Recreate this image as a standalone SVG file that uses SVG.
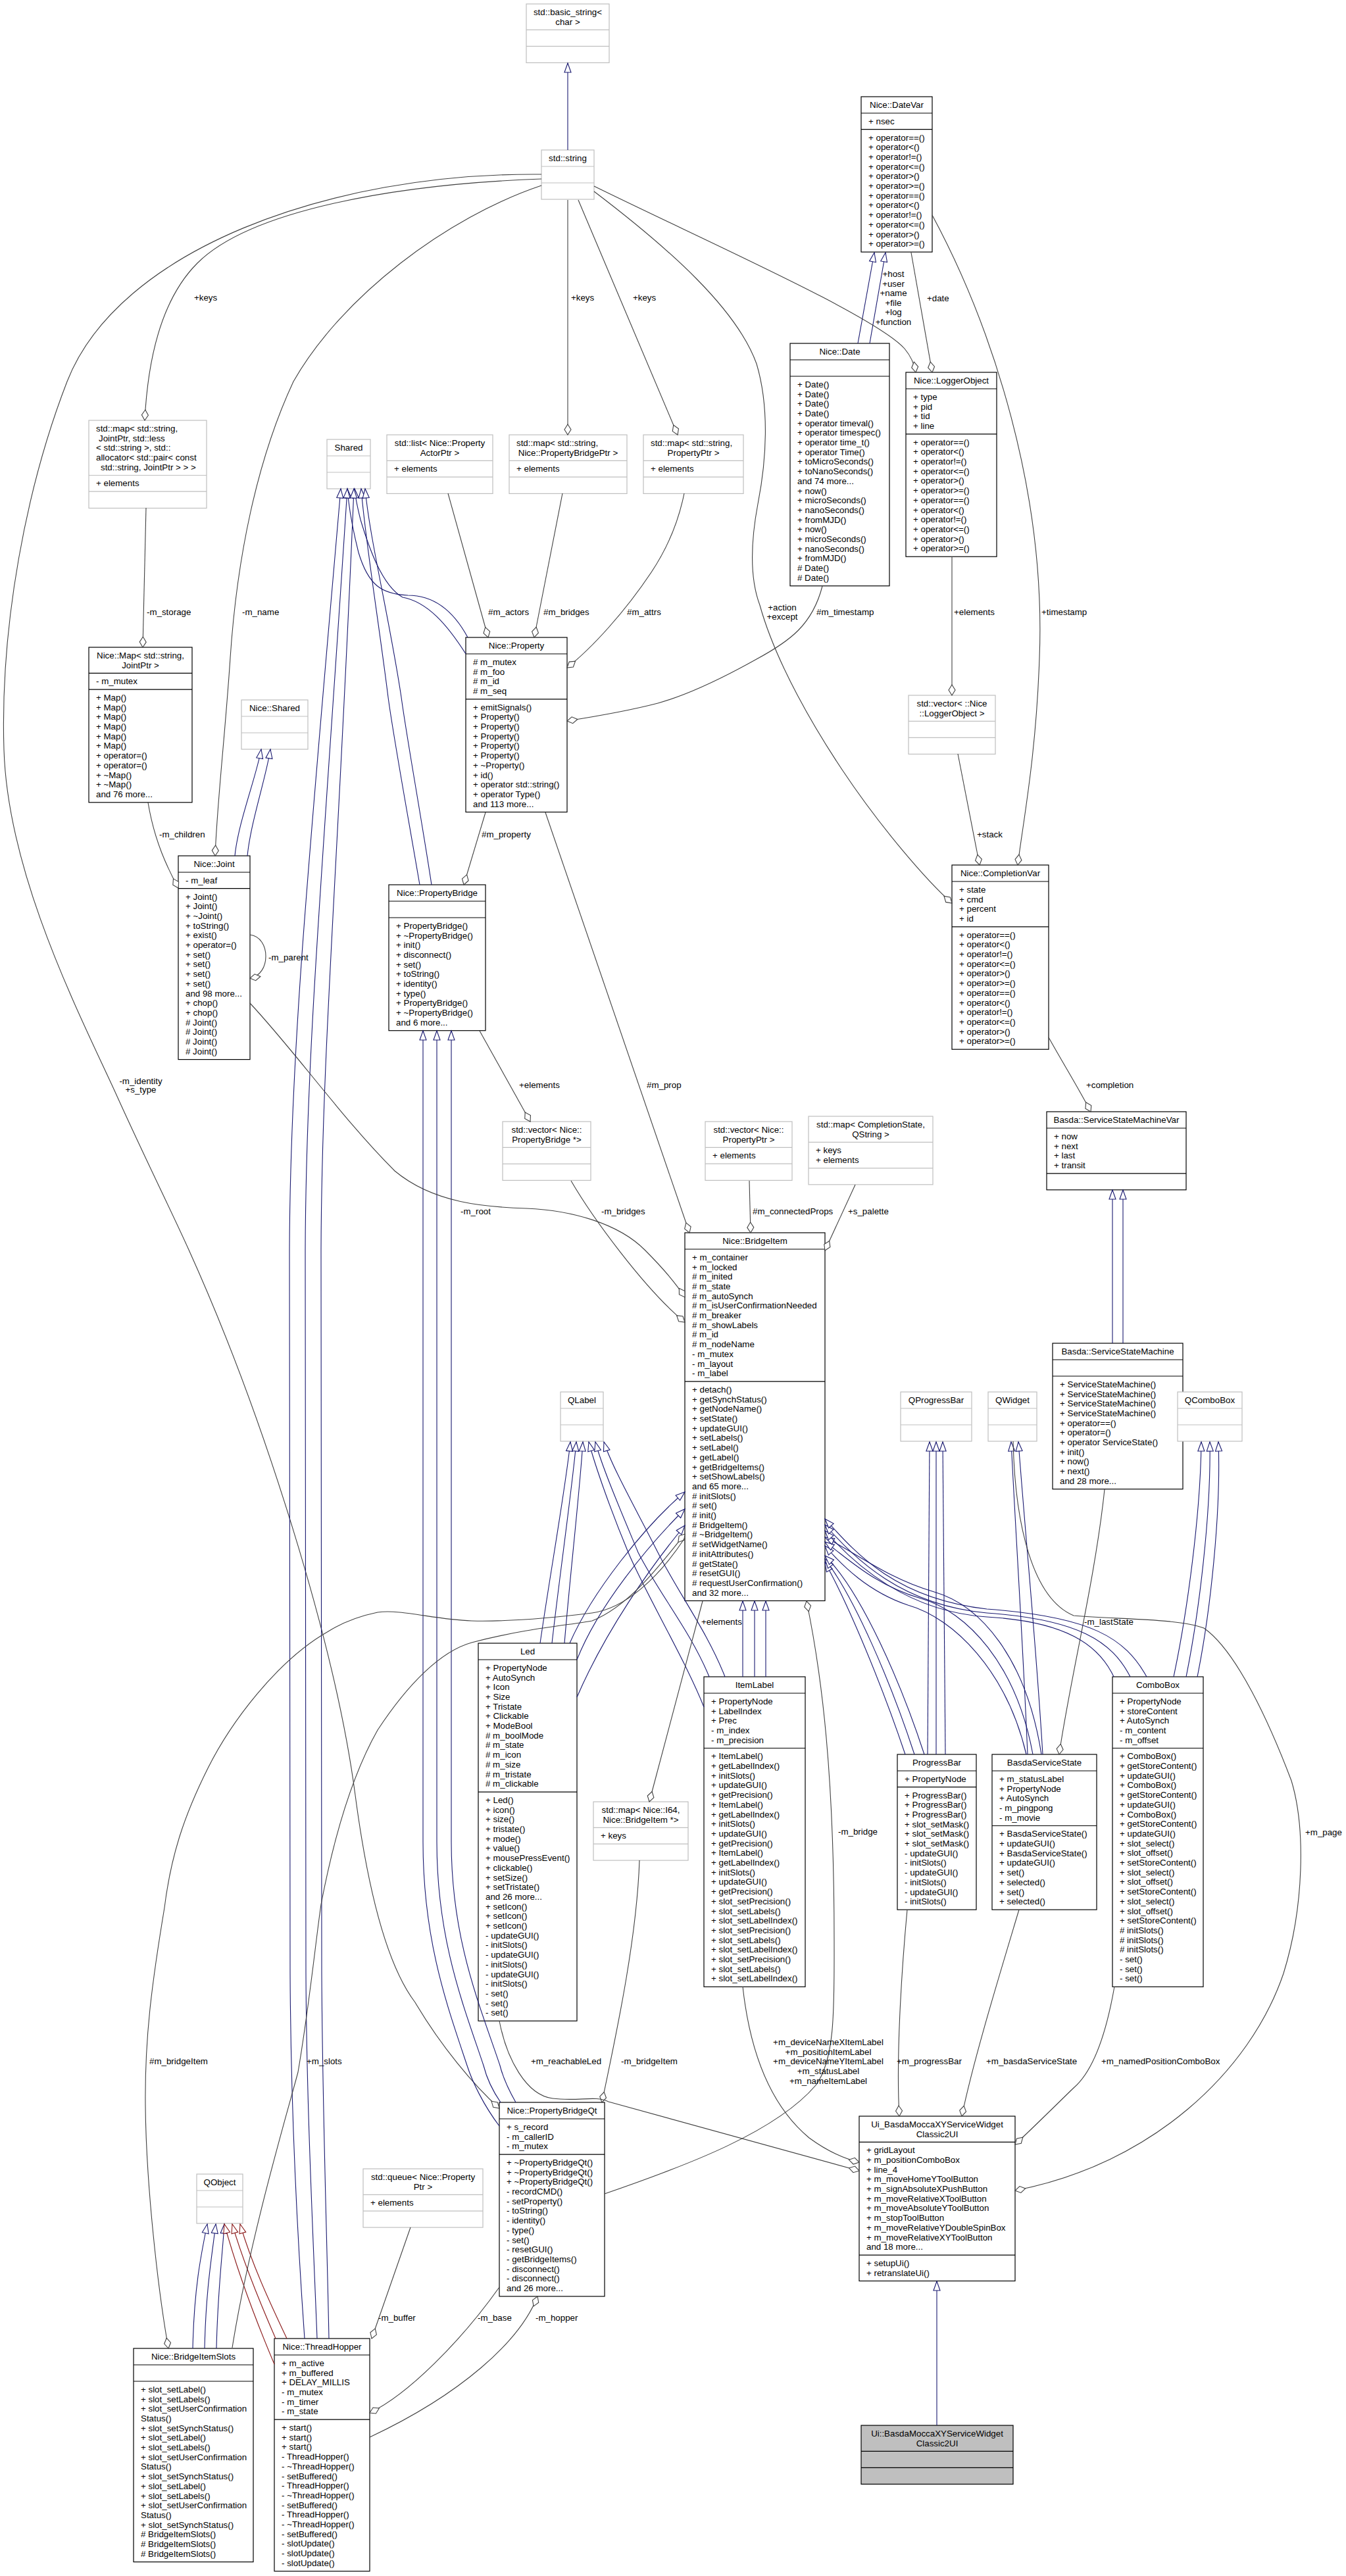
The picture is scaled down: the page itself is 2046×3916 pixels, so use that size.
<svg xmlns="http://www.w3.org/2000/svg" width="2046" height="3916" viewBox="0 0 2046 3916">
<style>
text{font-family:"Liberation Sans",Arial,Helvetica,sans-serif;font-size:13.33px;fill:#000}
.m{text-anchor:middle}
.b{fill:#fff;stroke:#000;stroke-width:1.2}
.g{fill:#fff;stroke:#bfbfbf;stroke-width:1.2}
.gy{fill:#bfbfbf;stroke:#000;stroke-width:1.2}
.sb{fill:none;stroke:#000;stroke-width:1.2}
.sg{fill:none;stroke:#bfbfbf;stroke-width:1.2}
.i{fill:none;stroke:#191970;stroke-width:1.1;marker-end:url(#ti)}
.p{fill:none;stroke:#8b1a1a;stroke-width:1.1;marker-end:url(#tp)}
.u{fill:none;stroke:#404040;stroke-width:1.1;marker-end:url(#dm)}
</style>
<defs>
<marker id="ti" markerUnits="userSpaceOnUse" markerWidth="17" markerHeight="12" refX="15" refY="6" orient="auto" overflow="visible"><path d="M1,1 L15,6 L1,11 z" fill="#fff" stroke="#191970" stroke-width="1.1"/></marker>
<marker id="tp" markerUnits="userSpaceOnUse" markerWidth="17" markerHeight="12" refX="15" refY="6" orient="auto" overflow="visible"><path d="M1,1 L15,6 L1,11 z" fill="#fff" stroke="#8b1a1a" stroke-width="1.1"/></marker>
<marker id="dm" markerUnits="userSpaceOnUse" markerWidth="18" markerHeight="12" refX="17" refY="6" orient="auto" overflow="visible"><path d="M1,6 L9,1 L17,6 L9,11 z" fill="#fff" stroke="#404040" stroke-width="1.1"/></marker>
</defs>
<rect x="0" y="0" width="2046" height="3916" fill="#fff"/>

<g id="nodes">
<g id="n-basic-string">
<rect class="g" x="800" y="6" width="126" height="89.4"/>
<path class="sg" d="M800,45.4h126M800,70.4h126"/>
<text class="m" x="863" y="22.8">std::basic_string&lt;</text>
<text class="m" x="863" y="37.5">char &gt;</text>
</g>
<g id="n-string">
<rect class="g" x="823" y="228" width="80" height="75"/>
<path class="sg" d="M823,253h80M823,278h80"/>
<text class="m" x="863" y="245">std::string</text>
</g>
<g id="n-datevar">
<rect class="b" x="1309" y="147" width="108" height="236.1"/>
<path class="sb" d="M1309,172h108M1309,196.7h108"/>
<text class="m" x="1363" y="164">Nice::DateVar</text>
<text x="1320" y="188.8">+ nsec</text>
<text x="1320" y="213.5"><tspan x="1320">+ operator==()</tspan><tspan x="1320" dy="14.7">+ operator&lt;()</tspan><tspan x="1320" dy="14.7">+ operator!=()</tspan><tspan x="1320" dy="14.7">+ operator&lt;=()</tspan><tspan x="1320" dy="14.7">+ operator&gt;()</tspan><tspan x="1320" dy="14.7">+ operator&gt;=()</tspan><tspan x="1320" dy="14.7">+ operator==()</tspan><tspan x="1320" dy="14.7">+ operator&lt;()</tspan><tspan x="1320" dy="14.7">+ operator!=()</tspan><tspan x="1320" dy="14.7">+ operator&lt;=()</tspan><tspan x="1320" dy="14.7">+ operator&gt;()</tspan><tspan x="1320" dy="14.7">+ operator&gt;=()</tspan></text>
</g>
<g id="n-date">
<rect class="b" x="1201" y="522" width="151" height="368.7"/>
<path class="sb" d="M1201,547h151M1201,572h151"/>
<text class="m" x="1276.5" y="539">Nice::Date</text>
<text x="1212" y="588.8"><tspan x="1212">+ Date()</tspan><tspan x="1212" dy="14.7">+ Date()</tspan><tspan x="1212" dy="14.7">+ Date()</tspan><tspan x="1212" dy="14.7">+ Date()</tspan><tspan x="1212" dy="14.7">+ operator timeval()</tspan><tspan x="1212" dy="14.7">+ operator timespec()</tspan><tspan x="1212" dy="14.7">+ operator time_t()</tspan><tspan x="1212" dy="14.7">+ operator Time()</tspan><tspan x="1212" dy="14.7">+ toMicroSeconds()</tspan><tspan x="1212" dy="14.7">+ toNanoSeconds()</tspan><tspan x="1212" dy="14.7">and 74 more...</tspan><tspan x="1212" dy="14.7">+ now()</tspan><tspan x="1212" dy="14.7">+ microSeconds()</tspan><tspan x="1212" dy="14.7">+ nanoSeconds()</tspan><tspan x="1212" dy="14.7">+ fromMJD()</tspan><tspan x="1212" dy="14.7">+ now()</tspan><tspan x="1212" dy="14.7">+ microSeconds()</tspan><tspan x="1212" dy="14.7">+ nanoSeconds()</tspan><tspan x="1212" dy="14.7">+ fromMJD()</tspan><tspan x="1212" dy="14.7"># Date()</tspan><tspan x="1212" dy="14.7"># Date()</tspan></text>
</g>
<g id="n-loggerobject">
<rect class="b" x="1377" y="566" width="138" height="280.2"/>
<path class="sb" d="M1377,591h138M1377,659.8h138"/>
<text class="m" x="1446" y="583">Nice::LoggerObject</text>
<text x="1388" y="607.8"><tspan x="1388">+ type</tspan><tspan x="1388" dy="14.7">+ pid</tspan><tspan x="1388" dy="14.7">+ tid</tspan><tspan x="1388" dy="14.7">+ line</tspan></text>
<text x="1388" y="676.6"><tspan x="1388">+ operator==()</tspan><tspan x="1388" dy="14.7">+ operator&lt;()</tspan><tspan x="1388" dy="14.7">+ operator!=()</tspan><tspan x="1388" dy="14.7">+ operator&lt;=()</tspan><tspan x="1388" dy="14.7">+ operator&gt;()</tspan><tspan x="1388" dy="14.7">+ operator&gt;=()</tspan><tspan x="1388" dy="14.7">+ operator==()</tspan><tspan x="1388" dy="14.7">+ operator&lt;()</tspan><tspan x="1388" dy="14.7">+ operator!=()</tspan><tspan x="1388" dy="14.7">+ operator&lt;=()</tspan><tspan x="1388" dy="14.7">+ operator&gt;()</tspan><tspan x="1388" dy="14.7">+ operator&gt;=()</tspan></text>
</g>
<g id="n-map-jointptr-std">
<rect class="g" x="135" y="639" width="179" height="133.5"/>
<path class="sg" d="M135,722.5h179M135,747.2h179"/>
<text x="146" y="655.8"><tspan x="146">std::map&lt; std::string,</tspan><tspan x="150" dy="14.7">JointPtr, std::less</tspan><tspan x="146" dy="14.7">&lt; std::string &gt;, std::</tspan><tspan x="146" dy="14.7">allocator&lt; std::pair&lt; const</tspan><tspan x="153" dy="14.7">std::string, JointPtr &gt; &gt; &gt;</tspan></text>
<text x="146" y="739.3">+ elements</text>
</g>
<g id="n-shared">
<rect class="g" x="497" y="668" width="66" height="75"/>
<path class="sg" d="M497,693h66M497,718h66"/>
<text class="m" x="530" y="685">Shared</text>
</g>
<g id="n-list-actor">
<rect class="g" x="588" y="661" width="161" height="89.4"/>
<path class="sg" d="M588,700.4h161M588,725.1h161"/>
<text class="m" x="668.5" y="677.8">std::list&lt; Nice::Property</text>
<text class="m" x="668.5" y="692.5">ActorPtr &gt;</text>
<text x="599" y="717.2">+ elements</text>
</g>
<g id="n-map-bridgeptr">
<rect class="g" x="774" y="661" width="179" height="89.4"/>
<path class="sg" d="M774,700.4h179M774,725.1h179"/>
<text x="785" y="677.8">std::map&lt; std::string,</text>
<text class="m" x="863.5" y="692.5">Nice::PropertyBridgePtr &gt;</text>
<text x="785" y="717.2">+ elements</text>
</g>
<g id="n-map-propertyptr">
<rect class="g" x="978" y="661" width="152" height="89.4"/>
<path class="sg" d="M978,700.4h152M978,725.1h152"/>
<text x="989" y="677.8">std::map&lt; std::string,</text>
<text class="m" x="1054" y="692.5">PropertyPtr &gt;</text>
<text x="989" y="717.2">+ elements</text>
</g>
<g id="n-nice-map">
<rect class="b" x="135" y="984" width="157" height="235.8"/>
<path class="sb" d="M135,1023.4h157M135,1048.1h157"/>
<text class="m" x="213.5" y="1000.8">Nice::Map&lt; std::string,</text>
<text class="m" x="213.5" y="1015.5">JointPtr &gt;</text>
<text x="146" y="1040.2">- m_mutex</text>
<text x="146" y="1064.9"><tspan x="146">+ Map()</tspan><tspan x="146" dy="14.7">+ Map()</tspan><tspan x="146" dy="14.7">+ Map()</tspan><tspan x="146" dy="14.7">+ Map()</tspan><tspan x="146" dy="14.7">+ Map()</tspan><tspan x="146" dy="14.7">+ Map()</tspan><tspan x="146" dy="14.7">+ operator=()</tspan><tspan x="146" dy="14.7">+ operator=()</tspan><tspan x="146" dy="14.7">+ ~Map()</tspan><tspan x="146" dy="14.7">+ ~Map()</tspan><tspan x="146" dy="14.7">and 76 more...</tspan></text>
</g>
<g id="n-nice-shared">
<rect class="g" x="367" y="1064" width="101" height="75"/>
<path class="sg" d="M367,1089h101M367,1114h101"/>
<text class="m" x="417.5" y="1081">Nice::Shared</text>
</g>
<g id="n-property">
<rect class="b" x="708" y="969" width="154" height="265.5"/>
<path class="sb" d="M708,994h154M708,1062.8h154"/>
<text class="m" x="785" y="986">Nice::Property</text>
<text x="719" y="1010.8"><tspan x="719"># m_mutex</tspan><tspan x="719" dy="14.7"># m_foo</tspan><tspan x="719" dy="14.7"># m_id</tspan><tspan x="719" dy="14.7"># m_seq</tspan></text>
<text x="719" y="1079.6"><tspan x="719">+ emitSignals()</tspan><tspan x="719" dy="14.7">+ Property()</tspan><tspan x="719" dy="14.7">+ Property()</tspan><tspan x="719" dy="14.7">+ Property()</tspan><tspan x="719" dy="14.7">+ Property()</tspan><tspan x="719" dy="14.7">+ Property()</tspan><tspan x="719" dy="14.7">+ ~Property()</tspan><tspan x="719" dy="14.7">+ id()</tspan><tspan x="719" dy="14.7">+ operator std::string()</tspan><tspan x="719" dy="14.7">+ operator Type()</tspan><tspan x="719" dy="14.7">and 113 more...</tspan></text>
</g>
<g id="n-vector-logger">
<rect class="g" x="1381" y="1057" width="132" height="89.4"/>
<path class="sg" d="M1381,1096.4h132M1381,1121.4h132"/>
<text class="m" x="1447" y="1073.8">std::vector&lt; ::Nice</text>
<text class="m" x="1447" y="1088.5">::LoggerObject &gt;</text>
</g>
<g id="n-joint">
<rect class="b" x="271" y="1301" width="109" height="309.6"/>
<path class="sb" d="M271,1326h109M271,1350.7h109"/>
<text class="m" x="325.5" y="1318">Nice::Joint</text>
<text x="282" y="1342.8">- m_leaf</text>
<text x="282" y="1367.5"><tspan x="282">+ Joint()</tspan><tspan x="282" dy="14.7">+ Joint()</tspan><tspan x="282" dy="14.7">+ ~Joint()</tspan><tspan x="282" dy="14.7">+ toString()</tspan><tspan x="282" dy="14.7">+ exist()</tspan><tspan x="282" dy="14.7">+ operator=()</tspan><tspan x="282" dy="14.7">+ set()</tspan><tspan x="282" dy="14.7">+ set()</tspan><tspan x="282" dy="14.7">+ set()</tspan><tspan x="282" dy="14.7">+ set()</tspan><tspan x="282" dy="14.7">and 98 more...</tspan><tspan x="282" dy="14.7">+ chop()</tspan><tspan x="282" dy="14.7">+ chop()</tspan><tspan x="282" dy="14.7"># Joint()</tspan><tspan x="282" dy="14.7"># Joint()</tspan><tspan x="282" dy="14.7"># Joint()</tspan><tspan x="282" dy="14.7"># Joint()</tspan></text>
</g>
<g id="n-propertybridge">
<rect class="b" x="591" y="1345" width="147" height="221.7"/>
<path class="sb" d="M591,1370h147M591,1395h147"/>
<text class="m" x="664.5" y="1362">Nice::PropertyBridge</text>
<text x="602" y="1411.8"><tspan x="602">+ PropertyBridge()</tspan><tspan x="602" dy="14.7">+ ~PropertyBridge()</tspan><tspan x="602" dy="14.7">+ init()</tspan><tspan x="602" dy="14.7">+ disconnect()</tspan><tspan x="602" dy="14.7">+ set()</tspan><tspan x="602" dy="14.7">+ toString()</tspan><tspan x="602" dy="14.7">+ identity()</tspan><tspan x="602" dy="14.7">+ type()</tspan><tspan x="602" dy="14.7">+ PropertyBridge()</tspan><tspan x="602" dy="14.7">+ ~PropertyBridge()</tspan><tspan x="602" dy="14.7">and 6 more...</tspan></text>
</g>
<g id="n-completionvar">
<rect class="b" x="1447" y="1315" width="147" height="280.2"/>
<path class="sb" d="M1447,1340h147M1447,1408.8h147"/>
<text class="m" x="1520.5" y="1332">Nice::CompletionVar</text>
<text x="1458" y="1356.8"><tspan x="1458">+ state</tspan><tspan x="1458" dy="14.7">+ cmd</tspan><tspan x="1458" dy="14.7">+ percent</tspan><tspan x="1458" dy="14.7">+ id</tspan></text>
<text x="1458" y="1425.6"><tspan x="1458">+ operator==()</tspan><tspan x="1458" dy="14.7">+ operator&lt;()</tspan><tspan x="1458" dy="14.7">+ operator!=()</tspan><tspan x="1458" dy="14.7">+ operator&lt;=()</tspan><tspan x="1458" dy="14.7">+ operator&gt;()</tspan><tspan x="1458" dy="14.7">+ operator&gt;=()</tspan><tspan x="1458" dy="14.7">+ operator==()</tspan><tspan x="1458" dy="14.7">+ operator&lt;()</tspan><tspan x="1458" dy="14.7">+ operator!=()</tspan><tspan x="1458" dy="14.7">+ operator&lt;=()</tspan><tspan x="1458" dy="14.7">+ operator&gt;()</tspan><tspan x="1458" dy="14.7">+ operator&gt;=()</tspan></text>
</g>
<g id="n-vector-bridge">
<rect class="g" x="764" y="1705" width="134" height="89.4"/>
<path class="sg" d="M764,1744.4h134M764,1769.4h134"/>
<text class="m" x="831" y="1721.8">std::vector&lt; Nice::</text>
<text class="m" x="831" y="1736.5">PropertyBridge *&gt;</text>
</g>
<g id="n-vector-propertyptr">
<rect class="g" x="1072" y="1705" width="132" height="89.4"/>
<path class="sg" d="M1072,1744.4h132M1072,1769.1h132"/>
<text class="m" x="1138" y="1721.8">std::vector&lt; Nice::</text>
<text class="m" x="1138" y="1736.5">PropertyPtr &gt;</text>
<text x="1083" y="1761.2">+ elements</text>
</g>
<g id="n-map-completion">
<rect class="g" x="1229" y="1697" width="189" height="103.8"/>
<path class="sg" d="M1229,1736.4h189M1229,1775.8h189"/>
<text class="m" x="1323.5" y="1713.8">std::map&lt; CompletionState,</text>
<text class="m" x="1323.5" y="1728.5">QString &gt;</text>
<text x="1240" y="1753.2"><tspan x="1240">+ keys</tspan><tspan x="1240" dy="14.7">+ elements</tspan></text>
</g>
<g id="n-ssmvar">
<rect class="b" x="1591" y="1690" width="212" height="118.8"/>
<path class="sb" d="M1591,1715h212M1591,1783.8h212"/>
<text class="m" x="1697" y="1707">Basda::ServiceStateMachineVar</text>
<text x="1602" y="1731.8"><tspan x="1602">+ now</tspan><tspan x="1602" dy="14.7">+ next</tspan><tspan x="1602" dy="14.7">+ last</tspan><tspan x="1602" dy="14.7">+ transit</tspan></text>
</g>
<g id="n-ssm">
<rect class="b" x="1600" y="2042" width="198" height="221.7"/>
<path class="sb" d="M1600,2067h198M1600,2092h198"/>
<text class="m" x="1699" y="2059">Basda::ServiceStateMachine</text>
<text x="1611" y="2108.8"><tspan x="1611">+ ServiceStateMachine()</tspan><tspan x="1611" dy="14.7">+ ServiceStateMachine()</tspan><tspan x="1611" dy="14.7">+ ServiceStateMachine()</tspan><tspan x="1611" dy="14.7">+ ServiceStateMachine()</tspan><tspan x="1611" dy="14.7">+ operator==()</tspan><tspan x="1611" dy="14.7">+ operator=()</tspan><tspan x="1611" dy="14.7">+ operator ServiceState()</tspan><tspan x="1611" dy="14.7">+ init()</tspan><tspan x="1611" dy="14.7">+ now()</tspan><tspan x="1611" dy="14.7">+ next()</tspan><tspan x="1611" dy="14.7">and 28 more...</tspan></text>
</g>
<g id="n-bridgeitem">
<rect class="b" x="1041" y="1874" width="213" height="559.5"/>
<path class="sb" d="M1041,1899h213M1041,2100.1h213"/>
<text class="m" x="1147.5" y="1891">Nice::BridgeItem</text>
<text x="1052" y="1915.8"><tspan x="1052">+ m_container</tspan><tspan x="1052" dy="14.7">+ m_locked</tspan><tspan x="1052" dy="14.7"># m_inited</tspan><tspan x="1052" dy="14.7"># m_state</tspan><tspan x="1052" dy="14.7"># m_autoSynch</tspan><tspan x="1052" dy="14.7"># m_isUserConfirmationNeeded</tspan><tspan x="1052" dy="14.7"># m_breaker</tspan><tspan x="1052" dy="14.7"># m_showLabels</tspan><tspan x="1052" dy="14.7"># m_id</tspan><tspan x="1052" dy="14.7"># m_nodeName</tspan><tspan x="1052" dy="14.7">- m_mutex</tspan><tspan x="1052" dy="14.7">- m_layout</tspan><tspan x="1052" dy="14.7">- m_label</tspan></text>
<text x="1052" y="2116.9"><tspan x="1052">+ detach()</tspan><tspan x="1052" dy="14.7">+ getSynchStatus()</tspan><tspan x="1052" dy="14.7">+ getNodeName()</tspan><tspan x="1052" dy="14.7">+ setState()</tspan><tspan x="1052" dy="14.7">+ updateGUI()</tspan><tspan x="1052" dy="14.7">+ setLabels()</tspan><tspan x="1052" dy="14.7">+ setLabel()</tspan><tspan x="1052" dy="14.7">+ getLabel()</tspan><tspan x="1052" dy="14.7">+ getBridgeItems()</tspan><tspan x="1052" dy="14.7">+ setShowLabels()</tspan><tspan x="1052" dy="14.7">and 65 more...</tspan><tspan x="1052" dy="14.7"># initSlots()</tspan><tspan x="1052" dy="14.7"># set()</tspan><tspan x="1052" dy="14.7"># init()</tspan><tspan x="1052" dy="14.7"># BridgeItem()</tspan><tspan x="1052" dy="14.7"># ~BridgeItem()</tspan><tspan x="1052" dy="14.7"># setWidgetName()</tspan><tspan x="1052" dy="14.7"># initAttributes()</tspan><tspan x="1052" dy="14.7"># getState()</tspan><tspan x="1052" dy="14.7"># resetGUI()</tspan><tspan x="1052" dy="14.7"># requestUserConfirmation()</tspan><tspan x="1052" dy="14.7">and 32 more...</tspan></text>
</g>
<g id="n-qlabel">
<rect class="g" x="852" y="2116" width="65" height="75"/>
<path class="sg" d="M852,2141h65M852,2166h65"/>
<text class="m" x="884.5" y="2133">QLabel</text>
</g>
<g id="n-qprogressbar">
<rect class="g" x="1369" y="2116" width="108" height="75"/>
<path class="sg" d="M1369,2141h108M1369,2166h108"/>
<text class="m" x="1423" y="2133">QProgressBar</text>
</g>
<g id="n-qwidget">
<rect class="g" x="1502" y="2116" width="74" height="75"/>
<path class="sg" d="M1502,2141h74M1502,2166h74"/>
<text class="m" x="1539" y="2133">QWidget</text>
</g>
<g id="n-qcombobox">
<rect class="g" x="1790" y="2116" width="98" height="75"/>
<path class="sg" d="M1790,2141h98M1790,2166h98"/>
<text class="m" x="1839" y="2133">QComboBox</text>
</g>
<g id="n-led">
<rect class="b" x="727" y="2498" width="150" height="574.2"/>
<path class="sb" d="M727,2523h150M727,2724.1h150"/>
<text class="m" x="802" y="2515">Led</text>
<text x="738" y="2539.8"><tspan x="738">+ PropertyNode</tspan><tspan x="738" dy="14.7">+ AutoSynch</tspan><tspan x="738" dy="14.7">+ Icon</tspan><tspan x="738" dy="14.7">+ Size</tspan><tspan x="738" dy="14.7">+ Tristate</tspan><tspan x="738" dy="14.7">+ Clickable</tspan><tspan x="738" dy="14.7">+ ModeBool</tspan><tspan x="738" dy="14.7"># m_boolMode</tspan><tspan x="738" dy="14.7"># m_state</tspan><tspan x="738" dy="14.7"># m_icon</tspan><tspan x="738" dy="14.7"># m_size</tspan><tspan x="738" dy="14.7"># m_tristate</tspan><tspan x="738" dy="14.7"># m_clickable</tspan></text>
<text x="738" y="2740.9"><tspan x="738">+ Led()</tspan><tspan x="738" dy="14.7">+ icon()</tspan><tspan x="738" dy="14.7">+ size()</tspan><tspan x="738" dy="14.7">+ tristate()</tspan><tspan x="738" dy="14.7">+ mode()</tspan><tspan x="738" dy="14.7">+ value()</tspan><tspan x="738" dy="14.7">+ mousePressEvent()</tspan><tspan x="738" dy="14.7">+ clickable()</tspan><tspan x="738" dy="14.7">+ setSize()</tspan><tspan x="738" dy="14.7">+ setTristate()</tspan><tspan x="738" dy="14.7">and 26 more...</tspan><tspan x="738" dy="14.7">+ setIcon()</tspan><tspan x="738" dy="14.7">+ setIcon()</tspan><tspan x="738" dy="14.7">+ setIcon()</tspan><tspan x="738" dy="14.7">- updateGUI()</tspan><tspan x="738" dy="14.7">- initSlots()</tspan><tspan x="738" dy="14.7">- updateGUI()</tspan><tspan x="738" dy="14.7">- initSlots()</tspan><tspan x="738" dy="14.7">- updateGUI()</tspan><tspan x="738" dy="14.7">- initSlots()</tspan><tspan x="738" dy="14.7">- set()</tspan><tspan x="738" dy="14.7">- set()</tspan><tspan x="738" dy="14.7">- set()</tspan></text>
</g>
<g id="n-itemlabel">
<rect class="b" x="1070" y="2549" width="154" height="471.3"/>
<path class="sb" d="M1070,2574h154M1070,2657.5h154"/>
<text class="m" x="1147" y="2566">ItemLabel</text>
<text x="1081" y="2590.8"><tspan x="1081">+ PropertyNode</tspan><tspan x="1081" dy="14.7">+ LabelIndex</tspan><tspan x="1081" dy="14.7">+ Prec</tspan><tspan x="1081" dy="14.7">- m_index</tspan><tspan x="1081" dy="14.7">- m_precision</tspan></text>
<text x="1081" y="2674.3"><tspan x="1081">+ ItemLabel()</tspan><tspan x="1081" dy="14.7">+ getLabelIndex()</tspan><tspan x="1081" dy="14.7">+ initSlots()</tspan><tspan x="1081" dy="14.7">+ updateGUI()</tspan><tspan x="1081" dy="14.7">+ getPrecision()</tspan><tspan x="1081" dy="14.7">+ ItemLabel()</tspan><tspan x="1081" dy="14.7">+ getLabelIndex()</tspan><tspan x="1081" dy="14.7">+ initSlots()</tspan><tspan x="1081" dy="14.7">+ updateGUI()</tspan><tspan x="1081" dy="14.7">+ getPrecision()</tspan><tspan x="1081" dy="14.7">+ ItemLabel()</tspan><tspan x="1081" dy="14.7">+ getLabelIndex()</tspan><tspan x="1081" dy="14.7">+ initSlots()</tspan><tspan x="1081" dy="14.7">+ updateGUI()</tspan><tspan x="1081" dy="14.7">+ getPrecision()</tspan><tspan x="1081" dy="14.7">+ slot_setPrecision()</tspan><tspan x="1081" dy="14.7">+ slot_setLabels()</tspan><tspan x="1081" dy="14.7">+ slot_setLabelIndex()</tspan><tspan x="1081" dy="14.7">+ slot_setPrecision()</tspan><tspan x="1081" dy="14.7">+ slot_setLabels()</tspan><tspan x="1081" dy="14.7">+ slot_setLabelIndex()</tspan><tspan x="1081" dy="14.7">+ slot_setPrecision()</tspan><tspan x="1081" dy="14.7">+ slot_setLabels()</tspan><tspan x="1081" dy="14.7">+ slot_setLabelIndex()</tspan></text>
</g>
<g id="n-combobox">
<rect class="b" x="1691" y="2549" width="138" height="471.3"/>
<path class="sb" d="M1691,2574h138M1691,2657.5h138"/>
<text class="m" x="1760" y="2566">ComboBox</text>
<text x="1702" y="2590.8"><tspan x="1702">+ PropertyNode</tspan><tspan x="1702" dy="14.7">+ storeContent</tspan><tspan x="1702" dy="14.7">+ AutoSynch</tspan><tspan x="1702" dy="14.7">- m_content</tspan><tspan x="1702" dy="14.7">- m_offset</tspan></text>
<text x="1702" y="2674.3"><tspan x="1702">+ ComboBox()</tspan><tspan x="1702" dy="14.7">+ getStoreContent()</tspan><tspan x="1702" dy="14.7">+ updateGUI()</tspan><tspan x="1702" dy="14.7">+ ComboBox()</tspan><tspan x="1702" dy="14.7">+ getStoreContent()</tspan><tspan x="1702" dy="14.7">+ updateGUI()</tspan><tspan x="1702" dy="14.7">+ ComboBox()</tspan><tspan x="1702" dy="14.7">+ getStoreContent()</tspan><tspan x="1702" dy="14.7">+ updateGUI()</tspan><tspan x="1702" dy="14.7">+ slot_select()</tspan><tspan x="1702" dy="14.7">+ slot_offset()</tspan><tspan x="1702" dy="14.7">+ setStoreContent()</tspan><tspan x="1702" dy="14.7">+ slot_select()</tspan><tspan x="1702" dy="14.7">+ slot_offset()</tspan><tspan x="1702" dy="14.7">+ setStoreContent()</tspan><tspan x="1702" dy="14.7">+ slot_select()</tspan><tspan x="1702" dy="14.7">+ slot_offset()</tspan><tspan x="1702" dy="14.7">+ setStoreContent()</tspan><tspan x="1702" dy="14.7"># initSlots()</tspan><tspan x="1702" dy="14.7"># initSlots()</tspan><tspan x="1702" dy="14.7"># initSlots()</tspan><tspan x="1702" dy="14.7">- set()</tspan><tspan x="1702" dy="14.7">- set()</tspan><tspan x="1702" dy="14.7">- set()</tspan></text>
</g>
<g id="n-progressbar">
<rect class="b" x="1364" y="2667" width="120" height="236.1"/>
<path class="sb" d="M1364,2692h120M1364,2716.7h120"/>
<text class="m" x="1424" y="2684">ProgressBar</text>
<text x="1375" y="2708.8">+ PropertyNode</text>
<text x="1375" y="2733.5"><tspan x="1375">+ ProgressBar()</tspan><tspan x="1375" dy="14.7">+ ProgressBar()</tspan><tspan x="1375" dy="14.7">+ ProgressBar()</tspan><tspan x="1375" dy="14.7">+ slot_setMask()</tspan><tspan x="1375" dy="14.7">+ slot_setMask()</tspan><tspan x="1375" dy="14.7">+ slot_setMask()</tspan><tspan x="1375" dy="14.7">- updateGUI()</tspan><tspan x="1375" dy="14.7">- initSlots()</tspan><tspan x="1375" dy="14.7">- updateGUI()</tspan><tspan x="1375" dy="14.7">- initSlots()</tspan><tspan x="1375" dy="14.7">- updateGUI()</tspan><tspan x="1375" dy="14.7">- initSlots()</tspan></text>
</g>
<g id="n-basdaservicestate">
<rect class="b" x="1508" y="2667" width="159" height="236.1"/>
<path class="sb" d="M1508,2692h159M1508,2775.5h159"/>
<text class="m" x="1587.5" y="2684">BasdaServiceState</text>
<text x="1519" y="2708.8"><tspan x="1519">+ m_statusLabel</tspan><tspan x="1519" dy="14.7">+ PropertyNode</tspan><tspan x="1519" dy="14.7">+ AutoSynch</tspan><tspan x="1519" dy="14.7">- m_pingpong</tspan><tspan x="1519" dy="14.7">- m_movie</tspan></text>
<text x="1519" y="2792.3"><tspan x="1519">+ BasdaServiceState()</tspan><tspan x="1519" dy="14.7">+ updateGUI()</tspan><tspan x="1519" dy="14.7">+ BasdaServiceState()</tspan><tspan x="1519" dy="14.7">+ updateGUI()</tspan><tspan x="1519" dy="14.7">+ set()</tspan><tspan x="1519" dy="14.7">+ selected()</tspan><tspan x="1519" dy="14.7">+ set()</tspan><tspan x="1519" dy="14.7">+ selected()</tspan></text>
</g>
<g id="n-map-i64">
<rect class="g" x="902" y="2739" width="144" height="89.1"/>
<path class="sg" d="M902,2778.4h144M902,2803.1h144"/>
<text class="m" x="974" y="2755.8">std::map&lt; Nice::I64,</text>
<text class="m" x="974" y="2770.5">Nice::BridgeItem *&gt;</text>
<text x="913" y="2795.2">+ keys</text>
</g>
<g id="n-propertybridgeqt">
<rect class="b" x="759" y="3196" width="160" height="294.9"/>
<path class="sb" d="M759,3221h160M759,3275.1h160"/>
<text class="m" x="839" y="3213">Nice::PropertyBridgeQt</text>
<text x="770" y="3237.8"><tspan x="770">+ s_record</tspan><tspan x="770" dy="14.7">- m_callerID</tspan><tspan x="770" dy="14.7">- m_mutex</tspan></text>
<text x="770" y="3291.9"><tspan x="770">+ ~PropertyBridgeQt()</tspan><tspan x="770" dy="14.7">+ ~PropertyBridgeQt()</tspan><tspan x="770" dy="14.7">+ ~PropertyBridgeQt()</tspan><tspan x="770" dy="14.7">- recordCMD()</tspan><tspan x="770" dy="14.7">- setProperty()</tspan><tspan x="770" dy="14.7">- toString()</tspan><tspan x="770" dy="14.7">- identity()</tspan><tspan x="770" dy="14.7">- type()</tspan><tspan x="770" dy="14.7">- set()</tspan><tspan x="770" dy="14.7">- resetGUI()</tspan><tspan x="770" dy="14.7">- getBridgeItems()</tspan><tspan x="770" dy="14.7">- disconnect()</tspan><tspan x="770" dy="14.7">- disconnect()</tspan><tspan x="770" dy="14.7">and 26 more...</tspan></text>
</g>
<g id="n-ui-underscore">
<rect class="b" x="1306" y="3217" width="237" height="250.5"/>
<path class="sb" d="M1306,3256.4h237M1306,3428.1h237"/>
<text class="m" x="1424.5" y="3233.8">Ui_BasdaMoccaXYServiceWidget</text>
<text class="m" x="1424.5" y="3248.5">Classic2UI</text>
<text x="1317" y="3273.2"><tspan x="1317">+ gridLayout</tspan><tspan x="1317" dy="14.7">+ m_positionComboBox</tspan><tspan x="1317" dy="14.7">+ line_4</tspan><tspan x="1317" dy="14.7">+ m_moveHomeYToolButton</tspan><tspan x="1317" dy="14.7">+ m_signAbsoluteXPushButton</tspan><tspan x="1317" dy="14.7">+ m_moveRelativeXToolButton</tspan><tspan x="1317" dy="14.7">+ m_moveAbsoluteYToolButton</tspan><tspan x="1317" dy="14.7">+ m_stopToolButton</tspan><tspan x="1317" dy="14.7">+ m_moveRelativeYDoubleSpinBox</tspan><tspan x="1317" dy="14.7">+ m_moveRelativeXYToolButton</tspan><tspan x="1317" dy="14.7">and 18 more...</tspan></text>
<text x="1317" y="3444.9"><tspan x="1317">+ setupUi()</tspan><tspan x="1317" dy="14.7">+ retranslateUi()</tspan></text>
</g>
<g id="n-ui-ns">
<rect class="gy" x="1309" y="3687" width="231" height="89.4"/>
<path class="sb" d="M1309,3726.4h231M1309,3751.4h231"/>
<text class="m" x="1424.5" y="3703.8">Ui::BasdaMoccaXYServiceWidget</text>
<text class="m" x="1424.5" y="3718.5">Classic2UI</text>
</g>
<g id="n-qobject">
<rect class="g" x="299" y="3305" width="70" height="75"/>
<path class="sg" d="M299,3330h70M299,3355h70"/>
<text class="m" x="334" y="3322">QObject</text>
</g>
<g id="n-queue">
<rect class="g" x="552" y="3297" width="182" height="89.1"/>
<path class="sg" d="M552,3336.4h182M552,3361.1h182"/>
<text class="m" x="643" y="3313.8">std::queue&lt; Nice::Property</text>
<text class="m" x="643" y="3328.5">Ptr &gt;</text>
<text x="563" y="3353.2">+ elements</text>
</g>
<g id="n-bridgeitemslots">
<rect class="b" x="203" y="3570" width="182" height="324.6"/>
<path class="sb" d="M203,3595h182M203,3620h182"/>
<text class="m" x="294" y="3587">Nice::BridgeItemSlots</text>
<text x="214" y="3636.8"><tspan x="214">+ slot_setLabel()</tspan><tspan x="214" dy="14.7">+ slot_setLabels()</tspan><tspan x="214" dy="14.7">+ slot_setUserConfirmation</tspan><tspan x="214" dy="14.7">Status()</tspan><tspan x="214" dy="14.7">+ slot_setSynchStatus()</tspan><tspan x="214" dy="14.7">+ slot_setLabel()</tspan><tspan x="214" dy="14.7">+ slot_setLabels()</tspan><tspan x="214" dy="14.7">+ slot_setUserConfirmation</tspan><tspan x="214" dy="14.7">Status()</tspan><tspan x="214" dy="14.7">+ slot_setSynchStatus()</tspan><tspan x="214" dy="14.7">+ slot_setLabel()</tspan><tspan x="214" dy="14.7">+ slot_setLabels()</tspan><tspan x="214" dy="14.7">+ slot_setUserConfirmation</tspan><tspan x="214" dy="14.7">Status()</tspan><tspan x="214" dy="14.7">+ slot_setSynchStatus()</tspan><tspan x="214" dy="14.7"># BridgeItemSlots()</tspan><tspan x="214" dy="14.7"># BridgeItemSlots()</tspan><tspan x="214" dy="14.7"># BridgeItemSlots()</tspan></text>
</g>
<g id="n-threadhopper">
<rect class="b" x="417" y="3555" width="145" height="353.7"/>
<path class="sb" d="M417,3580h145M417,3678.2h145"/>
<text class="m" x="489.5" y="3572">Nice::ThreadHopper</text>
<text x="428" y="3596.8"><tspan x="428">+ m_active</tspan><tspan x="428" dy="14.7">+ m_buffered</tspan><tspan x="428" dy="14.7">+ DELAY_MILLIS</tspan><tspan x="428" dy="14.7">- m_mutex</tspan><tspan x="428" dy="14.7">- m_timer</tspan><tspan x="428" dy="14.7">- m_state</tspan></text>
<text x="428" y="3695"><tspan x="428">+ start()</tspan><tspan x="428" dy="14.7">+ start()</tspan><tspan x="428" dy="14.7">+ start()</tspan><tspan x="428" dy="14.7">- ThreadHopper()</tspan><tspan x="428" dy="14.7">- ~ThreadHopper()</tspan><tspan x="428" dy="14.7">- setBuffered()</tspan><tspan x="428" dy="14.7">- ThreadHopper()</tspan><tspan x="428" dy="14.7">- ~ThreadHopper()</tspan><tspan x="428" dy="14.7">- setBuffered()</tspan><tspan x="428" dy="14.7">- ThreadHopper()</tspan><tspan x="428" dy="14.7">- ~ThreadHopper()</tspan><tspan x="428" dy="14.7">- setBuffered()</tspan><tspan x="428" dy="14.7">- slotUpdate()</tspan><tspan x="428" dy="14.7">- slotUpdate()</tspan><tspan x="428" dy="14.7">- slotUpdate()</tspan></text>
</g>
</g>

<g id="edges">
<path class="i" d="M863,228 L863,96"/>
<path class="i" d="M1304,522 L1329,384"/>
<path class="i" d="M1322,522 L1346,384"/>
<path class="u" d="M903,283 C1080,370 1330,480 1375,530 C1385,542 1390,554 1392,566"/>
<path class="u" d="M1385,384 L1417,566"/>
<path class="u" d="M1417,327 C1510,500 1590,750 1580,1000 C1575,1150 1555,1250 1547,1315"/>
<path class="u" d="M903,291 C1020,380 1120,470 1150,553 C1170,620 1165,700 1152,766 C1140,830 1140,880 1155,920 C1180,1010 1240,1110 1280,1170 C1340,1260 1410,1340 1447,1373"/>
<path class="u" d="M1250,891 C1235,950 1200,975 1150,1002 C1100,1030 1050,1055 1000,1069 C950,1082 900,1090 862,1096"/>
<path class="u" d="M1447,846 L1447,1057"/>
<path class="u" d="M1456,1146 L1489,1315"/>
<path class="u" d="M1594,1577 C1615,1615 1640,1655 1658,1690"/>
<path class="i" d="M1691,2042 L1691,1809"/>
<path class="i" d="M1707,2042 L1707,1809"/>
<path class="u" d="M1679,2264 C1665,2400 1625,2560 1610,2667"/>
<path class="u" d="M823,272 C600,280 380,320 300,400 C240,460 224,560 220,639"/>
<path class="u" d="M823,282 C680,330 520,450 446,580 C390,700 360,850 350,1000 C342,1120 330,1220 327,1301"/>
<path class="u" d="M823,265 C500,262 180,380 102,580 C40,740 0,950 6,1140 C12,1330 120,1540 175,1660 C220,1760 260,1840 287,1900 C400,2150 510,2500 540,2729 C560,2880 590,2990 631,3044 C670,3110 720,3170 759,3205"/>
<path class="u" d="M222,772 L217,984"/>
<path class="u" d="M225,1220 C235,1280 255,1320 271,1350"/>
<path class="u" d="M380,1421 C412,1425 412,1482 380,1487"/>
<path class="i" d="M357,1301 C362,1250 390,1180 397,1139"/>
<path class="i" d="M376,1301 C381,1250 405,1180 411,1139"/>
<path class="i" d="M711,969 C690,930 660,905 620,905 C580,903 560,890 545,840 C535,800 530,770 528,743"/>
<path class="i" d="M708,994 C680,950 650,915 612,908 C580,890 560,830 548,790 C543,770 540,755 539,743"/>
<path class="i" d="M463,3555 C452,3400 442,3200 441,3000 L440,1900 C441,1600 470,1300 518,743"/>
<path class="i" d="M482,3555 C476,3400 466,3200 465,3000 L464,1900 C465,1600 492,1300 528,743"/>
<path class="i" d="M500,3555 C497,3400 490,3200 489,3000 L488,1900 C489,1600 515,1300 538,743"/>
<path class="i" d="M638,1345 C620,1240 598,1120 590,1060 C575,940 555,820 549,743"/>
<path class="i" d="M656,1345 C640,1240 618,1120 610,1060 C592,940 562,820 555,743"/>
<path class="i" d="M759,3232 C735,3200 718,3165 710,3140 C680,3050 643,2950 643,2800 L643,1567"/>
<path class="i" d="M761,3196 C750,3180 740,3160 735,3140 C705,3050 664,2950 664,2800 L664,1567"/>
<path class="i" d="M784,3196 C772,3175 765,3160 760,3140 C730,3050 686,2950 686,2800 L686,1567"/>
<path class="i" d="M293,3570 C295,3480 305,3430 315,3381"/>
<path class="i" d="M311,3570 C313,3480 322,3430 328,3381"/>
<path class="i" d="M329,3570 C331,3480 338,3430 341,3381"/>
<path class="p" d="M417,3594 C390,3530 360,3450 341,3381"/>
<path class="p" d="M419,3555 C395,3500 370,3440 353,3381"/>
<path class="p" d="M436,3555 C410,3500 382,3440 365,3381"/>
<path class="i" d="M821,2498 C835,2400 860,2260 867,2192"/>
<path class="i" d="M839,2498 C850,2400 870,2260 876,2192"/>
<path class="i" d="M858,2498 C866,2400 882,2260 886,2192"/>
<path class="i" d="M1070,2595 C1040,2520 980,2420 955,2360 C930,2300 905,2230 895,2192"/>
<path class="i" d="M1078,2549 C1050,2480 1000,2420 970,2360 C945,2300 915,2230 905,2192"/>
<path class="i" d="M1102,2549 C1075,2480 1030,2420 1000,2360 C970,2300 930,2230 918,2192"/>
<path class="i" d="M866,2498 C900,2420 980,2320 1041,2268"/>
<path class="i" d="M877,2523 C910,2440 985,2350 1041,2294"/>
<path class="i" d="M877,2580 C920,2480 990,2380 1041,2319"/>
<path class="i" d="M1129,2549 L1129,2434"/>
<path class="i" d="M1147,2549 L1147,2434"/>
<path class="i" d="M1164,2549 L1164,2434"/>
<path class="i" d="M1376,2667 C1340,2560 1290,2440 1254,2375"/>
<path class="i" d="M1390,2667 C1355,2560 1300,2430 1254,2370"/>
<path class="i" d="M1405,2667 C1370,2560 1310,2420 1254,2365"/>
<path class="i" d="M1560,2667 C1530,2540 1450,2460 1380,2440 C1320,2420 1280,2380 1254,2350"/>
<path class="i" d="M1570,2667 C1545,2530 1470,2450 1400,2430 C1330,2410 1290,2370 1254,2344"/>
<path class="i" d="M1583,2667 C1560,2520 1490,2440 1420,2420 C1350,2400 1300,2360 1254,2337"/>
<path class="i" d="M1693,2549 C1670,2500 1620,2465 1500,2458 C1380,2450 1300,2380 1254,2327"/>
<path class="i" d="M1718,2549 C1690,2495 1640,2462 1500,2452 C1370,2440 1300,2370 1254,2318"/>
<path class="i" d="M1743,2549 C1710,2490 1660,2458 1500,2446 C1360,2430 1300,2360 1254,2309"/>
<path class="i" d="M1410,2667 L1413,2192"/>
<path class="i" d="M1423,2667 L1423,2192"/>
<path class="i" d="M1437,2667 L1433,2192"/>
<path class="i" d="M1562,2667 C1555,2500 1545,2350 1537,2192"/>
<path class="i" d="M1585,2667 C1575,2500 1560,2350 1548,2192"/>
<path class="i" d="M1784,2549 C1805,2450 1825,2300 1826,2192"/>
<path class="i" d="M1803,2549 C1823,2450 1841,2300 1839,2192"/>
<path class="i" d="M1820,2549 C1840,2450 1856,2300 1852,2192"/>
<path class="u" d="M738,1235 L705,1345"/>
<path class="u" d="M829,1235 L1048,1874"/>
<path class="u" d="M681,750 L742,969"/>
<path class="u" d="M855,750 L812,969"/>
<path class="u" d="M1040,750 C1030,800 1010,840 990,870 C950,930 900,985 862,1015"/>
<path class="u" d="M863,304 L863,661"/>
<path class="u" d="M879,304 L1030,661"/>
<path class="u" d="M729,1567 L806,1705"/>
<path class="u" d="M868,1795 C900,1850 980,1960 1041,2010"/>
<path class="u" d="M380,1525 C450,1600 520,1700 600,1780 C660,1830 740,1835 800,1837 C870,1840 940,1860 980,1900 C1010,1930 1030,1955 1041,1972"/>
<path class="u" d="M1139,1795 L1141,1874"/>
<path class="u" d="M1300,1801 L1254,1901"/>
<path class="u" d="M1068,2434 L987,2739"/>
<path class="u" d="M972,2828 C968,2950 935,3100 915,3196"/>
<path class="u" d="M919,3335 C1050,3290 1180,3240 1240,3170 C1270,3130 1268,3050 1268,2950 C1268,2700 1250,2550 1226,2434"/>
<path class="u" d="M1129,3020 C1140,3120 1170,3200 1230,3250 C1260,3272 1285,3282 1306,3287"/>
<path class="u" d="M759,3072 C770,3130 800,3185 840,3190 C880,3195 905,3185 925,3195 L1306,3300"/>
<path class="u" d="M1379,2903 C1370,3000 1362,3130 1367,3217"/>
<path class="u" d="M1549,2903 C1520,3000 1480,3130 1462,3217"/>
<path class="u" d="M1694,3020 C1680,3100 1660,3150 1632,3174 C1600,3205 1570,3235 1543,3260"/>
<path class="u" d="M1540,2191 C1543,2320 1570,2430 1632,2456 C1700,2462 1790,2460 1830,2475 C1880,2510 1930,2620 1963,2707 C1985,2780 1982,2900 1951,3000 C1900,3150 1750,3290 1543,3330"/>
<path class="i" d="M1424,3687 L1424,3468"/>
<path class="u" d="M624,3386 L565,3555"/>
<path class="u" d="M759,3477 C700,3560 620,3640 562,3668"/>
<path class="u" d="M562,3705 C700,3640 790,3560 817,3491"/>
<path class="u" d="M353,3569 C380,3400 440,3200 453,3150 C470,3050 480,2950 488,2895 C510,2780 540,2690 574,2630 C620,2560 670,2510 717,2497 C800,2475 870,2470 900,2464 C960,2440 1010,2370 1041,2332"/>
<path class="u" d="M1041,2338 C1000,2400 950,2445 900,2452 C820,2462 760,2465 717,2464 C660,2462 610,2446 574,2451 C540,2458 515,2470 499,2480 C420,2525 350,2620 316,2688 C280,2760 260,2820 250,2900 C230,3020 220,3100 221,3200 C222,3320 240,3480 256,3570"/>

<text x="295" y="457">+keys</text>
<text x="868" y="457">+keys</text>
<text x="962" y="457">+keys</text>
<text class="m" x="1358" y="421"><tspan x="1358">+host</tspan><tspan x="1358" dy="14.6">+user</tspan><tspan x="1358" dy="14.6">+name</tspan><tspan x="1358" dy="14.6">+file</tspan><tspan x="1358" dy="14.6">+log</tspan><tspan x="1358" dy="14.6">+function</tspan></text>
<text x="1409" y="458">+date</text>
<text class="m" x="1189" y="928">+action</text>
<text class="m" x="1189" y="942">+except</text>
<text x="1241" y="935">#m_timestamp</text>
<text x="1450" y="935">+elements</text>
<text x="1583" y="935">+timestamp</text>
<text x="223" y="935">-m_storage</text>
<text x="368" y="935">-m_name</text>
<text x="742" y="935">#m_actors</text>
<text x="826" y="935">#m_bridges</text>
<text x="953" y="935">#m_attrs</text>
<text x="242" y="1273">-m_children</text>
<text x="408" y="1460">-m_parent</text>
<text x="732" y="1273">#m_property</text>
<text x="1485" y="1273">+stack</text>
<text class="m" x="214" y="1648">-m_identity</text>
<text class="m" x="214" y="1661">+s_type</text>
<text x="789" y="1654">+elements</text>
<text x="983" y="1654">#m_prop</text>
<text x="1651" y="1654">+completion</text>
<text x="700" y="1846">-m_root</text>
<text x="914" y="1846">-m_bridges</text>
<text x="1144" y="1846">#m_connectedProps</text>
<text x="1289" y="1846">+s_palette</text>
<text x="1066" y="2470">+elements</text>
<text x="1648" y="2470">-m_lastState</text>
<text x="1274" y="2789">-m_bridge</text>
<text x="1984" y="2790">+m_page</text>
<text x="227" y="3138">#m_bridgeItem</text>
<text x="466" y="3138">+m_slots</text>
<text x="807" y="3138">+m_reachableLed</text>
<text x="944" y="3138">-m_bridgeItem</text>
<text class="m" x="1259" y="3109"><tspan x="1259">+m_deviceNameXItemLabel</tspan><tspan x="1259" dy="14.7">+m_positionItemLabel</tspan><tspan x="1259" dy="14.7">+m_deviceNameYItemLabel</tspan><tspan x="1259" dy="14.7">+m_statusLabel</tspan><tspan x="1259" dy="14.7">+m_nameItemLabel</tspan></text>
<text x="1363" y="3138">+m_progressBar</text>
<text x="1499" y="3138">+m_basdaServiceState</text>
<text x="1674" y="3138">+m_namedPositionComboBox</text>
<text x="575" y="3528">-m_buffer</text>
<text x="726" y="3528">-m_base</text>
<text x="814" y="3528">-m_hopper</text>
</g>
</svg>
